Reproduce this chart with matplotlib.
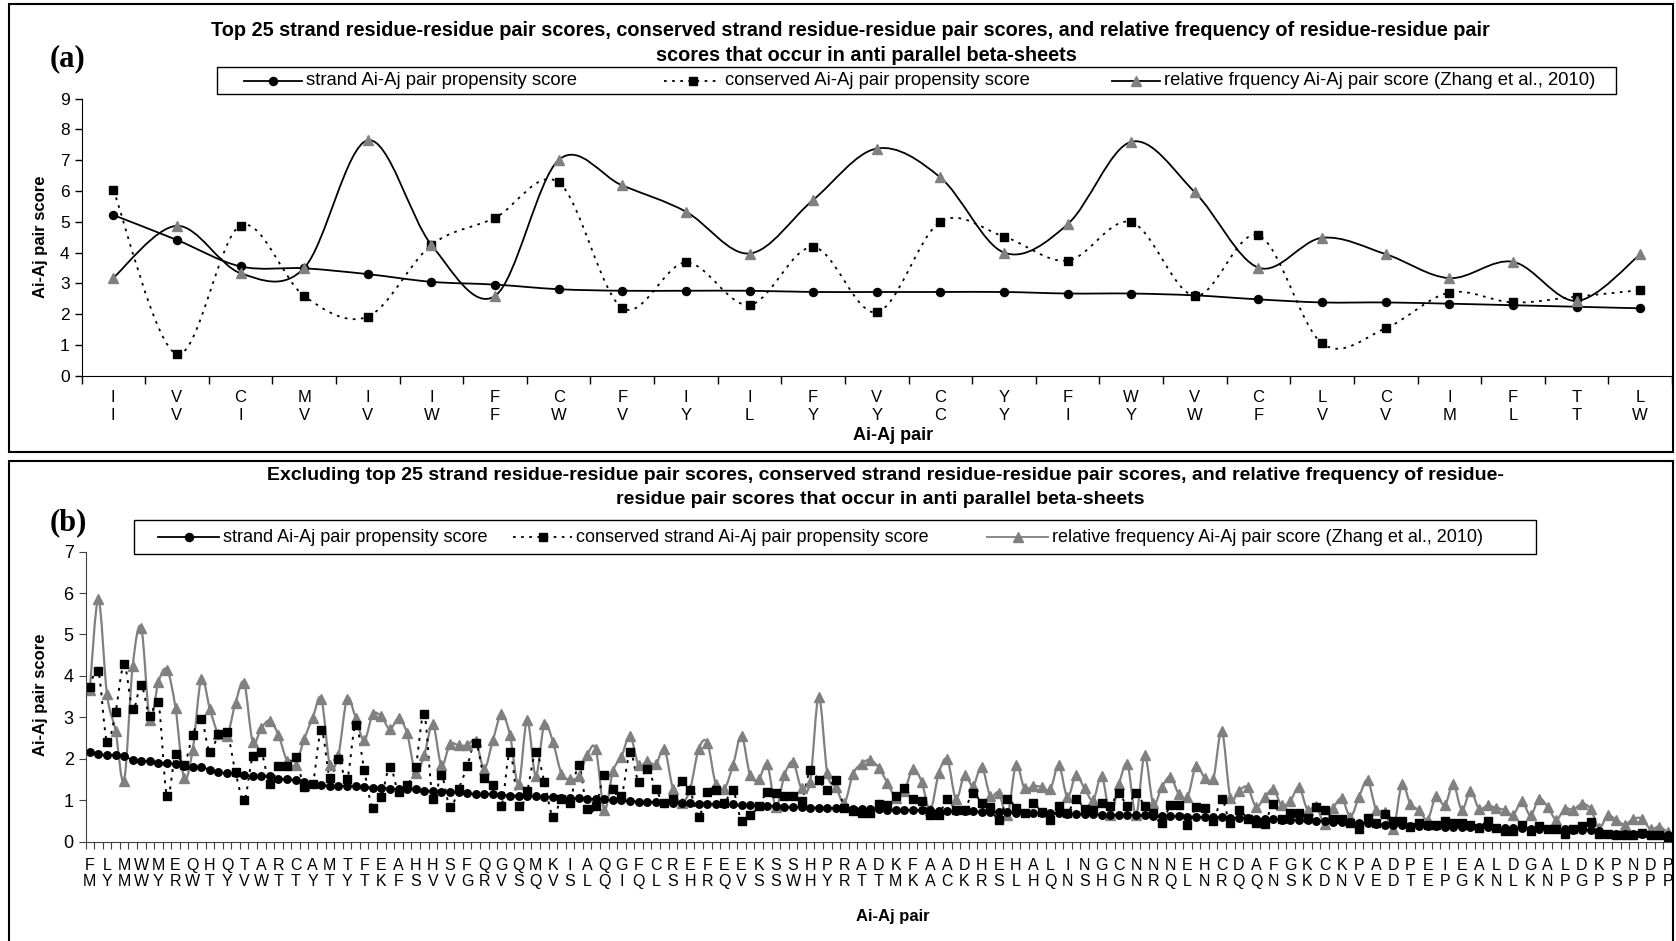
import matplotlib
matplotlib.use('Agg')
import matplotlib.pyplot as plt
from matplotlib.path import Path
from matplotlib.patches import PathPatch, Rectangle
from matplotlib.lines import Line2D

# ---- data: panel (a) top 25 pairs
a_top = ['I','V','C','M','I','I','F','C','F','I','I','F','V','C','Y','F','W','V','C','L','C','I','F','T','L']
a_bot = ['I','V','I','V','V','W','F','W','V','Y','L','Y','Y','C','Y','I','Y','W','F','V','V','M','L','T','W']
strand_a = [5.22, 4.41, 3.55, 3.49, 3.30, 3.05, 2.96, 2.81, 2.76, 2.76, 2.76, 2.72, 2.72,
            2.72, 2.72, 2.67, 2.67, 2.61, 2.48, 2.38, 2.38, 2.34, 2.29, 2.24, 2.19]
cons_a = [6.04, 0.70, 4.88, 2.59, 1.92, 4.25, 5.13, 6.28, 2.20, 3.68, 2.30, 4.18, 2.06,
          5.00, 4.52, 3.74, 4.99, 2.59, 4.56, 1.05, 1.54, 2.70, 2.38, 2.57, 2.78]
rel_a = [3.18, 4.87, 3.33, 3.50, 7.65, 4.25, 2.59, 7.01, 6.18, 5.33, 3.97, 5.71, 7.38,
         6.44, 4.00, 4.92, 7.60, 5.96, 3.51, 4.48, 3.95, 3.17, 3.70, 2.43, 3.94]

# ---- data: panel (b) remaining 185 pairs (labels shown for every second pair)
b_top = list('FLMWMEQHQTARCAMTFEAHHSFQGQMKIAQGFCREFEEKSSHPRADKFAADHEHALINGCNNNEHCDAFGKCKPADPEIEALDGALDKPNDP')
b_bot = list('MYMWYRWTYVWTTYTYTKFSVVGRVSQVSLQIQLSHRQVSSWHYRTTMKACKRSLHQNSHGNRQLNRQQNSKDNVEDTEPGKNLKNPGPSPPP')
rel_b = [3.66, 5.85, 3.56, 2.68, 1.47, 4.23, 5.16, 2.94, 3.85, 4.15, 3.22, 1.53, 2.22, 3.93, 3.20,
         2.59, 2.54, 3.35, 3.83, 2.41, 2.74, 2.92, 2.57, 1.95, 1.85,
         2.47, 2.99, 3.45, 1.84, 2.10, 3.45, 2.99, 2.44, 3.07, 3.02, 2.71, 2.97, 2.61, 1.66, 2.09,
         2.83, 1.84, 2.35, 2.32, 2.32, 2.43, 1.76, 2.44, 3.07, 2.57, 1.38,
         2.94, 1.58, 2.83, 2.41, 1.64, 1.50, 1.58, 2.09, 2.23, 0.76, 1.70, 2.05, 2.55, 1.84, 1.94,
         1.86, 2.23, 1.27, 0.94, 1.26, 2.23, 2.39, 1.38, 1.27, 1.84, 2.55,
         1.60, 1.50, 1.86, 0.83, 1.60, 1.92, 1.28, 1.44, 3.50, 1.65, 1.31, 0.94, 1.63, 1.88, 1.97,
         1.78, 1.42, 1.06, 1.22, 1.76, 1.44, 0.76, 1.65, 1.98, 1.03,
         1.60, 1.34, 1.81, 1.10, 1.18, 0.63, 1.84, 1.28, 1.34, 1.32, 1.26, 1.84, 1.07, 1.60, 1.28,
         1.00, 1.58, 0.65, 1.38, 1.86, 0.63, 2.08, 0.92, 1.31, 1.56, 1.14,
         1.07, 1.82, 1.54, 1.50, 2.67, 1.06, 1.23, 1.31, 0.84, 1.07, 1.26, 0.87, 0.98, 1.31, 0.77,
         0.85, 0.43, 0.81, 1.04, 0.60, 1.07, 1.48, 0.77, 0.71, 0.29,
         1.38, 0.90, 0.76, 0.53, 1.10, 0.87, 1.38, 0.76, 1.22, 0.79, 0.87, 0.81, 0.76, 0.65, 0.97,
         0.63, 1.03, 0.84, 0.53, 0.79, 0.77, 0.91, 0.79, 0.33, 0.63, 0.52, 0.41, 0.55, 0.55, 0.30,
         0.36, 0.22]
cons_b = [3.73, 4.11, 2.41, 3.12, 4.28, 3.19, 3.77, 3.02, 3.38, 1.09, 2.11, 1.85, 2.57, 2.96, 2.15,
          2.59, 2.64, 1.67, 1.00, 2.06, 2.15, 1.40, 1.83, 1.83, 2.03,
          1.32, 1.40, 2.69, 1.53, 2.00, 1.50, 2.82, 1.73, 0.80, 1.08, 1.80, 1.19, 1.36, 1.80, 3.07,
          1.02, 1.60, 0.83, 1.26, 1.82, 2.39, 1.54, 1.37, 0.86, 2.15,
          0.85, 1.22, 2.15, 1.44, 0.60, 1.03, 0.92, 1.85, 0.79, 0.85, 1.60, 1.27, 1.10, 2.15, 1.44,
          1.76, 1.27, 0.92, 1.03, 1.46, 1.24, 0.60, 1.20, 1.24, 0.94, 1.24, 0.49,
          0.63, 0.85, 1.20, 1.18, 1.11, 1.11, 0.98, 1.72, 1.48, 1.24, 1.48, 0.81, 0.73, 0.69, 0.68,
          0.90, 0.87, 1.10, 1.28, 1.02, 0.98, 0.63, 0.63, 1.02, 0.75,
          0.76, 1.18, 0.92, 0.83, 0.53, 1.02, 0.81, 0.69, 0.92, 0.71, 0.53, 0.85, 0.69, 1.03, 0.79,
          0.77, 0.92, 0.85, 1.18, 0.85, 1.18, 0.85, 0.69, 0.45, 0.87, 0.87,
          0.41, 0.84, 0.81, 0.49, 1.02, 0.45, 0.76, 0.55, 0.44, 0.43, 0.91, 0.55, 0.69, 0.69, 0.57,
          0.84, 0.76, 0.55, 0.55, 0.45, 0.29, 0.57, 0.45, 0.67, 0.49,
          0.49, 0.35, 0.44, 0.39, 0.41, 0.49, 0.45, 0.44, 0.39, 0.33, 0.49, 0.33, 0.25, 0.25, 0.39,
          0.25, 0.37, 0.29, 0.29, 0.17, 0.29, 0.37, 0.47, 0.17, 0.17, 0.15, 0.15, 0.15, 0.21, 0.15,
          0.15, 0.12]
strand_b = [2.15, 2.11, 2.09, 2.09, 2.06, 1.97, 1.94, 1.94, 1.90, 1.90, 1.86, 1.83, 1.80, 1.80, 1.73,
            1.67, 1.65, 1.65, 1.61, 1.57, 1.57, 1.57, 1.51, 1.51, 1.48,
            1.44, 1.40, 1.36, 1.34, 1.34, 1.34, 1.33, 1.32, 1.30, 1.30, 1.27, 1.26, 1.26, 1.26, 1.23,
            1.22, 1.20, 1.20, 1.19, 1.16, 1.15, 1.15, 1.15, 1.13, 1.11, 1.11,
            1.11, 1.10, 1.08, 1.08, 1.06, 1.04, 1.04, 1.03, 1.03, 1.02, 0.99, 0.99, 0.98, 0.96, 0.95,
            0.95, 0.94, 0.94, 0.94, 0.92, 0.91, 0.90, 0.90, 0.90, 0.90, 0.88,
            0.88, 0.86, 0.86, 0.85, 0.84, 0.83, 0.83, 0.82, 0.82, 0.81, 0.80, 0.80, 0.79, 0.78, 0.78,
            0.78, 0.77, 0.77, 0.76, 0.76, 0.75, 0.75, 0.74, 0.74, 0.73,
            0.73, 0.73, 0.72, 0.72, 0.71, 0.71, 0.70, 0.70, 0.69, 0.69, 0.68, 0.68, 0.67, 0.67, 0.66,
            0.66, 0.65, 0.65, 0.64, 0.64, 0.63, 0.63, 0.62, 0.62, 0.61, 0.61,
            0.60, 0.60, 0.59, 0.59, 0.58, 0.57, 0.57, 0.56, 0.55, 0.55, 0.54, 0.53, 0.52, 0.52, 0.51,
            0.50, 0.49, 0.48, 0.47, 0.46, 0.45, 0.44, 0.43, 0.41, 0.39,
            0.39, 0.38, 0.38, 0.37, 0.37, 0.36, 0.36, 0.35, 0.35, 0.34, 0.34, 0.33, 0.33, 0.32, 0.32,
            0.31, 0.31, 0.30, 0.30, 0.29, 0.28, 0.28, 0.27, 0.25, 0.19, 0.18, 0.18, 0.17, 0.17, 0.16,
            0.16, 0.15]

NARROW = ['Liberation Sans Narrow', 'Liberation Sans']
ARIAL = ['Liberation Sans']
GREY = '#808080'

W, H = 1676, 941
fig = plt.figure(figsize=(W / 100, H / 100), dpi=100)


def fx(x):
    return x / W


def fy(y):
    return 1 - y / H


def smooth(ax, ys, **kw):
    # excel style smoothed line (catmull-rom as cubic bezier)
    n = len(ys)
    pts = [(float(i), float(v)) for i, v in enumerate(ys)]
    verts = [pts[0]]
    codes = [Path.MOVETO]
    for i in range(n - 1):
        p0 = pts[i - 1] if i > 0 else pts[i]
        p1, p2 = pts[i], pts[i + 1]
        p3 = pts[i + 2] if i + 2 < n else p2
        c1 = (p1[0] + (p2[0] - p0[0]) / 6, p1[1] + (p2[1] - p0[1]) / 6)
        c2 = (p2[0] - (p3[0] - p1[0]) / 6, p2[1] - (p3[1] - p1[1]) / 6)
        verts += [c1, c2, p2]
        codes += [Path.CURVE4] * 3
    ax.add_patch(PathPatch(Path(verts, codes), fill=False, **kw))


def add_axes(left, top, right, bottom):
    return fig.add_axes([fx(left), fy(bottom), (right - left) / W, (bottom - top) / H])


def legend_entry(x0, x1, y, label, fam, size, ls, lcolor, marker, mcolor, ms):
    fig.add_artist(Line2D([fx(x0), fx(x1)], [fy(y), fy(y)], transform=fig.transFigure,
                          color=lcolor, ls=ls, lw=1.3))
    fig.add_artist(Line2D([fx((x0 + x1) / 2)], [fy(y)], transform=fig.transFigure, ls='none',
                          marker=marker, color=mcolor, ms=ms))
    fig.text(fx(x1 + 4), fy(y), label, ha='left', va='center', family=fam, fontsize=size)


# frames round each panel
fig.add_artist(Rectangle((fx(9), fy(452)), (1673 - 9) / W, (452 - 3.5) / H,
                         transform=fig.transFigure, fill=False, ec='black', lw=1.5))
fig.add_artist(Rectangle((fx(9), fy(960)), (1673 - 9) / W, (960 - 461) / H,
                         transform=fig.transFigure, fill=False, ec='black', lw=1.5))

# ===== panel (a)
ax1 = add_axes(81.5, 98.7, 1672, 375.7)
x_a = range(len(strand_a))
smooth(ax1, strand_a, color='black', lw=1.3)
smooth(ax1, cons_a, color='black', lw=1.3, ls=(0, (1.5, 3)))
smooth(ax1, rel_a, color='black', lw=1.3)
ax1.plot(x_a, strand_a, ls='none', marker='o', color='black', ms=5.8)
ax1.plot(x_a, cons_a, ls='none', marker='s', color='black', ms=5.8)
ax1.plot(x_a, rel_a, ls='none', marker='^', color=GREY, ms=7)
ax1.set_xlim(-0.5, len(strand_a) - 0.5)
ax1.set_ylim(0, 9)
ax1.set_yticks(range(10))
ax1.set_xticks(list(x_a))
ax1.set_xticklabels([t + '\n' + b for t, b in zip(a_top, a_bot)], family=NARROW, fontsize=12,
                    linespacing=1.3)
ax1.set_xticks([i - 0.5 for i in range(len(strand_a) + 1)], minor=True)
ax1.tick_params(axis='x', which='major', length=0, pad=10)
ax1.tick_params(axis='x', which='minor', length=6, direction='out', width=1)
ax1.tick_params(axis='y', length=5, direction='out', width=1, labelsize=12.5)
for lab in ax1.get_yticklabels():
    lab.set_family(NARROW)
for s in ['top', 'right']:
    ax1.spines[s].set_visible(False)
ax1.patch.set_alpha(0)

fig.text(fx(850), fy(31), 'Top 25 strand residue-residue pair scores, conserved strand residue-residue '
         'pair scores, and relative frequency of residue-residue pair', ha='center', va='center',
         family=NARROW, weight='bold', fontsize=14.3)
fig.text(fx(866), fy(55.5), 'scores that occur in anti parallel beta-sheets', ha='center', va='center',
         family=NARROW, weight='bold', fontsize=14.3)
fig.text(fx(50), fy(59), '(a)', ha='left', va='center', family=['Liberation Serif'], weight='bold',
         fontsize=22)
fig.text(fx(40), fy(237), 'Ai-Aj pair score', rotation=90, ha='center', va='center', family=ARIAL,
         weight='bold', fontsize=12)
fig.text(fx(893), fy(436), 'Ai-Aj pair', ha='center', va='center', family=NARROW, weight='bold',
         fontsize=13)

fig.add_artist(Rectangle((fx(217), fy(94)), (1616 - 217) / W, (94 - 67) / H,
                         transform=fig.transFigure, fill=False, ec='black', lw=1))
legend_entry(244, 302, 80.5, 'strand Ai-Aj pair propensity score', NARROW, 13.3, '-', 'black', 'o',
             'black', 5.8)
legend_entry(664, 721, 80.5, 'conserved Ai-Aj pair propensity score', NARROW, 13.3, (0, (1.5, 3)),
             'black', 's', 'black', 5.8)
legend_entry(1112, 1160, 80.5, 'relative frquency Ai-Aj pair score (Zhang et al., 2010)', NARROW, 13.3,
             '-', 'black', '^', GREY, 7)

# ===== panel (b)
ax2 = add_axes(85.5, 551.6, 1672, 841.5)
x_b = range(len(strand_b))
smooth(ax2, rel_b, color=GREY, lw=1.6)
smooth(ax2, cons_b, color='black', lw=1.4, ls=(0, (1.5, 3)))
smooth(ax2, strand_b, color='black', lw=1.3)
ax2.plot(x_b, rel_b, ls='none', marker='^', color=GREY, ms=6.8)
ax2.plot(x_b, cons_b, ls='none', marker='s', color='black', ms=5.8)
ax2.plot(x_b, strand_b, ls='none', marker='o', color='black', ms=5.4)
ax2.set_xlim(-0.5, len(strand_b) - 0.5)
ax2.set_ylim(0, 7)
ax2.set_yticks(range(8))
ax2.set_xticks(list(range(0, len(strand_b), 2)))
ax2.set_xticklabels([t + '\n' + b for t, b in zip(b_top, b_bot)], family=ARIAL, fontsize=11.5,
                    linespacing=1.1)
ax2.set_xticks([i - 0.5 for i in range(len(strand_b) + 1)], minor=True)
ax2.tick_params(axis='x', which='major', length=0, pad=12)
ax2.tick_params(axis='x', which='minor', length=5, direction='out', width=0.8, color='#404040')
ax2.tick_params(axis='y', length=5, direction='out', width=0.8, color='#404040', labelsize=13)
for lab in ax2.get_yticklabels():
    lab.set_family(ARIAL)
for s in ['top', 'right']:
    ax2.spines[s].set_visible(False)
for s in ['left', 'bottom']:
    ax2.spines[s].set_color('#404040')
ax2.patch.set_alpha(0)

fig.text(fx(885), fy(475), 'Excluding top 25 strand residue-residue pair scores, conserved strand '
         'residue-residue pair scores, and relative frequency of residue-', ha='center', va='center',
         family=ARIAL, weight='bold', fontsize=14)
fig.text(fx(880), fy(500), 'residue pair scores that occur in anti parallel beta-sheets', ha='center',
         va='center', family=ARIAL, weight='bold', fontsize=14)
fig.text(fx(50), fy(523), '(b)', ha='left', va='center', family=['Liberation Serif'], weight='bold',
         fontsize=22)
fig.text(fx(40), fy(695), 'Ai-Aj pair score', rotation=90, ha='center', va='center', family=ARIAL,
         weight='bold', fontsize=12)
fig.text(fx(893), fy(916), 'Ai-Aj pair', ha='center', va='center', family=ARIAL, weight='bold',
         fontsize=12)

fig.add_artist(Rectangle((fx(134), fy(554)), (1536 - 134) / W, (554 - 520) / H,
                         transform=fig.transFigure, fill=False, ec='black', lw=1))
legend_entry(158, 219, 537, 'strand Ai-Aj pair propensity score', ARIAL, 13, '-', 'black', 'o',
             'black', 5.8)
legend_entry(513, 572, 537, 'conserved strand Ai-Aj pair propensity score', ARIAL, 13,
             (0, (1.5, 3)), 'black', 's', 'black', 5.8)
legend_entry(987, 1048, 537, 'relative frequency Ai-Aj pair score (Zhang et al., 2010)', ARIAL, 13,
             '-', GREY, '^', GREY, 6.8)

fig.savefig('out.png', dpi=100)
